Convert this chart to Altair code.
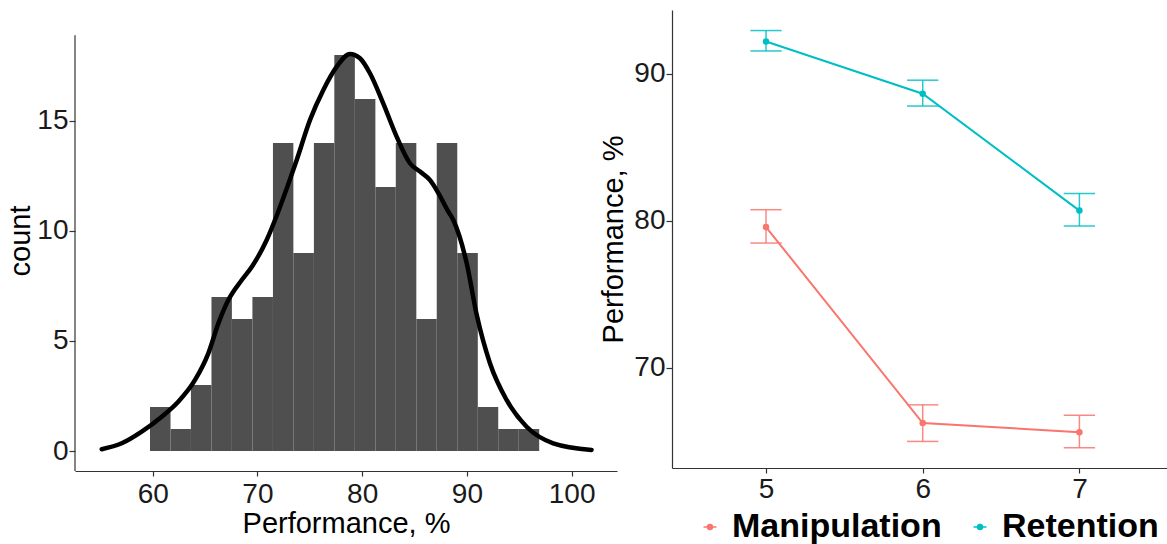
import altair as alt
import pandas as pd

# ---------------- data ----------------
bin_left = [59.74, 61.70, 63.65, 65.61, 67.56, 69.52, 71.48, 73.43, 75.39, 77.34,
            79.30, 81.26, 83.21, 85.17, 87.12, 89.08, 91.04, 92.99, 94.95]
bin_right = [61.70, 63.65, 65.61, 67.56, 69.52, 71.48, 73.43, 75.39, 77.34, 79.30,
             81.26, 83.21, 85.17, 87.12, 89.08, 91.04, 92.99, 94.95, 96.90]
counts = [2, 1, 3, 7, 6, 7, 14, 9, 14, 18, 16, 12, 14, 6, 14, 9, 2, 1, 1]

dens_x = [55.13, 57.04, 58.95, 60.86, 62.44, 64.04, 65.31, 66.27, 67.22, 68.5,
          69.5, 70.88, 72.0, 73.0, 73.75, 75.02, 76.29, 77.57, 78.84, 79.79,
          80.74, 82.01, 83.29, 84.56, 85.52, 86.5, 87.3, 88.2, 88.7, 89.98,
          90.93, 92.2, 93.79, 95.7, 98.24, 101.9]
dens_y = [0.08, 0.35, 0.88, 1.56, 2.24, 3.23, 4.44, 5.80, 6.86, 7.77,
          8.4, 9.59, 10.9, 12.2, 13.23, 15.05, 16.41, 17.47, 18.05, 17.85,
          17.17, 15.8, 14.29, 13.08, 12.7, 12.3, 11.7, 10.9, 10.5, 8.53,
          6.2, 3.99, 2.32, 1.1, 0.35, 0.05]

sizes = [5, 6, 7]
groups = ["Manipulation", "Retention"]
colors = ["#F8766D", "#00BFC4"]
manip_mean = [79.57, 66.22, 65.60]
manip_lo = [78.48, 64.97, 64.54]
manip_hi = [80.75, 67.46, 66.75]
ret_mean = [92.20, 88.65, 80.69]
ret_lo = [91.56, 87.81, 79.64]
ret_hi = [92.95, 89.57, 81.85]

FONT = "Liberation Sans"

hist_df = pd.DataFrame({"left": bin_left, "right": bin_right, "count": counts})
dens_df = pd.DataFrame({"x": dens_x, "y": dens_y})
perf_df = pd.DataFrame({
    "size": sizes * 2,
    "group": [groups[0]] * 3 + [groups[1]] * 3,
    "mean": manip_mean + ret_mean,
    "lo": manip_lo + ret_lo,
    "hi": manip_hi + ret_hi,
})

# ---------------- left: histogram + density ----------------
x_dom = [52.58, 104.33]
y_dom = [-0.909, 20.045]
xl = alt.Scale(domain=x_dom, nice=False, zero=False)
yl = alt.Scale(domain=y_dom, nice=False, zero=False)

x_axis_l = alt.Axis(values=[60, 70, 80, 90, 100], title="Performance, %",
                    tickSize=5, labelPadding=4, minExtent=37, maxExtent=37,
                    titlePadding=1)
y_axis_l = alt.Axis(values=[0, 5, 10, 15], title="count", domain=False,
                    tickSize=6, labelPadding=1, minExtent=36, maxExtent=36,
                    titlePadding=4)

bars = alt.Chart(hist_df).mark_rect(color="#4f4f4f").encode(
    x=alt.X("left:Q", scale=xl, axis=x_axis_l),
    x2="right:Q",
    y=alt.Y("count:Q", scale=yl, axis=y_axis_l),
    y2=alt.datum(0),
)

yline_df = pd.DataFrame({"x": [x_dom[0]], "y": [y_dom[0]], "y2": [18.9]})
yline = alt.Chart(yline_df).mark_rule(color="#333333", strokeWidth=1.2).encode(
    x=alt.X("x:Q", scale=xl), y=alt.Y("y:Q", scale=yl), y2="y2:Q")

dens = alt.Chart(dens_df).mark_line(color="black", strokeWidth=4.5,
                                    interpolate="monotone", strokeCap="round").encode(
    x=alt.X("x:Q", scale=xl), y=alt.Y("y:Q", scale=yl))

left = alt.layer(bars, dens, yline).properties(width=542, height=461)

# ---------------- right: performance by size ----------------
xr = alt.Scale(domain=[4.4, 7.559], nice=False, zero=False)
yr = alt.Scale(domain=[63.16, 94.35], nice=False, zero=False)
cscale = alt.Scale(domain=groups, range=colors)

key_path = ("M-1,0L1,0"
            "M0.38,0A0.38,0.38,0,1,1,-0.38,0A0.38,0.38,0,1,1,0.38,0"
            "M0.22,0A0.22,0.22,0,1,1,-0.22,0A0.22,0.22,0,1,1,0.22,0"
            "M0.08,0A0.08,0.08,0,1,1,-0.08,0A0.08,0.08,0,1,1,0.08,0")
leg = alt.Legend(
    title=None, orient="none", legendX=21, legendY=500, direction="horizontal",
    symbolType=key_path, symbolSize=169, symbolStrokeWidth=1.5, symbolOpacity=1,
    labelFont=FONT, labelFontSize=34, labelFontWeight="bold", labelColor="black",
    labelOffset=5, columnPadding=21, padding=0, labelLimit=400)
col = alt.Color("group:N", scale=cscale, legend=leg)

x_axis_r = alt.Axis(values=sizes, title=None, tickSize=5, labelPadding=2, format="d")
y_axis_r = alt.Axis(values=[70, 80, 90], title="Performance, %", tickSize=6,
                    labelPadding=1, minExtent=36, maxExtent=36, titlePadding=8)

base = alt.Chart(perf_df).encode(
    x=alt.X("size:Q", scale=xr, axis=x_axis_r),
    color=col,
)

lines = base.mark_line(strokeWidth=2).encode(y=alt.Y("mean:Q", scale=yr, axis=y_axis_r))
err = base.mark_rule(strokeWidth=1.5, opacity=0.85).encode(
    y=alt.Y("lo:Q", scale=yr), y2="hi:Q")
caps_lo = alt.Chart(perf_df).transform_calculate(
    xa="datum.size - 0.1", xb="datum.size + 0.1").mark_rule(strokeWidth=1.5, opacity=0.85).encode(
    x=alt.X("xa:Q", scale=xr), x2="xb:Q", y=alt.Y("lo:Q", scale=yr), color=col)
caps_hi = alt.Chart(perf_df).transform_calculate(
    xa="datum.size - 0.1", xb="datum.size + 0.1").mark_rule(strokeWidth=1.5, opacity=0.85).encode(
    x=alt.X("xa:Q", scale=xr), x2="xb:Q", y=alt.Y("hi:Q", scale=yr), color=col)
pts = base.mark_circle(size=42, opacity=1).encode(y=alt.Y("mean:Q", scale=yr))

right = alt.layer(lines, err, caps_lo, caps_hi, pts).properties(width=495, height=458)

chart = alt.hconcat(left, right, spacing=55, bounds="flush").resolve_scale(
    color="independent").resolve_legend(color="independent").properties(
    autosize=alt.AutoSizeParams(type="none"),
    padding={"left": 75, "top": 10, "right": 1092, "bottom": 534},
    background="white",
).configure_view(stroke=None).configure_axis(
    labelFont=FONT, labelFontSize=28, labelColor="#1a1a1a",
    titleFont=FONT, titleFontSize=29, titleFontWeight="normal", titleColor="black",
    domainColor="#333333", tickColor="#333333", domainWidth=1.2, tickWidth=1.2,
    grid=False,
)

chart.save("out.html", embed_options={"renderer": "svg", "actions": False})
